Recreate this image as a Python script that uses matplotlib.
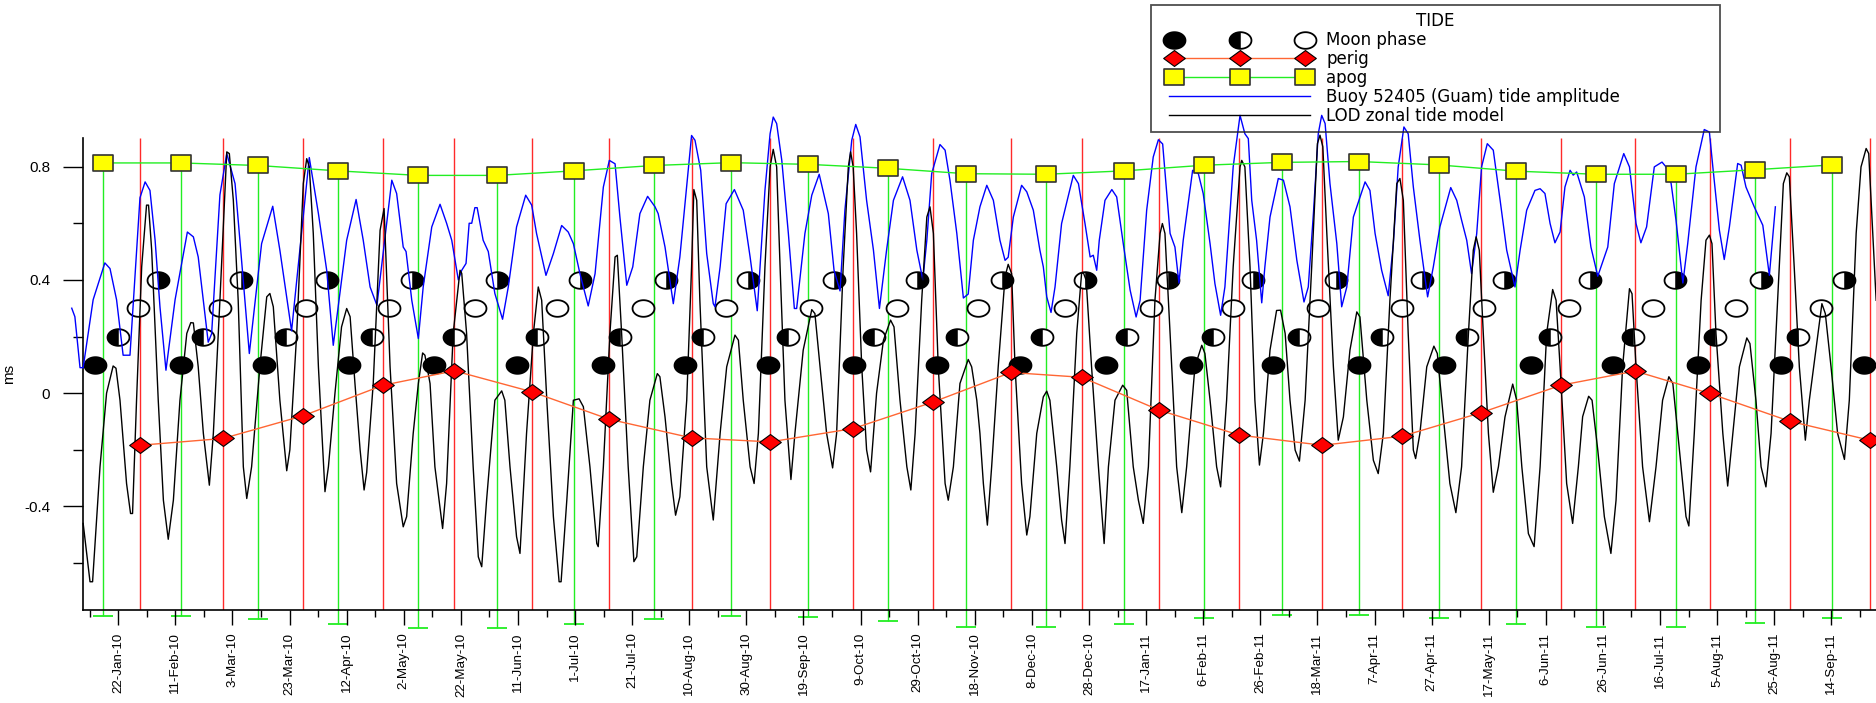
import datetime as dt

import matplotlib
matplotlib.use("Agg")
import matplotlib.pyplot as plt
import numpy as np
from matplotlib.legend_handler import HandlerLine2D, HandlerTuple
from matplotlib.lines import Line2D
from matplotlib.path import Path
from matplotlib.ticker import FixedLocator, FuncFormatter

# every x value is a day count from 1-Jan-2010
START = dt.date(2010, 1, 1)

perig_day = [28.6, 57.7, 85.7, 113.8, 138.7, 165.8, 192.9, 221.8, 249.4, 278.4, 306.5, 333.6,
             358.5, 385.6, 413.6, 442.7, 470.7, 498.3, 526.3, 552.3, 578.4, 606.4, 634.4]
perig_val = [-0.184, -0.160, -0.080, 0.028, 0.079, 0.005, -0.092, -0.158, -0.172, -0.125, -0.031, 0.073,
             0.056, -0.060, -0.148, -0.184, -0.152, -0.069, 0.028, 0.078, -0.001, -0.099, -0.166]

apog_day = [15.8, 42.9, 69.9, 98.0, 126.1, 153.5, 180.6, 208.6, 235.6, 262.7, 290.7, 317.8,
            345.8, 373.4, 401.4, 428.5, 455.5, 483.5, 510.6, 538.6, 566.6, 594.3, 621.2]
apog_val = [0.813, 0.813, 0.804, 0.785, 0.769, 0.769, 0.785, 0.804, 0.814, 0.808, 0.794, 0.775,
            0.773, 0.785, 0.805, 0.815, 0.818, 0.806, 0.784, 0.773, 0.773, 0.789, 0.806]
APOG_DROP = 1.6  # length of the green drop bars under the apogee squares

new_moon_day = [12.8, 42.9, 71.9, 101.9, 131.6, 160.8, 190.7, 219.5, 248.7, 278.7, 307.7, 336.8,
                366.8, 396.6, 425.6, 455.6, 485.4, 515.7, 544.4, 574.4, 603.4, 632.6]
first_q_day = [20.9, 50.8, 79.7, 109.8, 138.7, 167.8, 196.7, 225.7, 255.5, 285.7, 314.7, 344.4,
               374.4, 404.5, 434.6, 463.5, 493.5, 522.5, 551.4, 580.4, 609.4]
full_moon_day = [28.0, 56.6, 86.6, 115.9, 145.9, 174.8, 204.7, 233.7, 263.5, 293.6, 322.2, 352.6,
                 382.6, 411.5, 441.3, 470.5, 499.4, 529.2, 558.4, 587.6, 617.4]
last_q_day = [34.8, 63.9, 94.0, 123.8, 153.8, 182.7, 212.7, 241.7, 271.7, 300.6, 330.4, 359.6,
              388.6, 418.5, 447.5, 477.5, 506.5, 536.5, 566.4, 596.4, 625.3]
phase_level = [0.1, 0.2, 0.3, 0.4]  # new, first quarter, full, last quarter

buoy_day = [
    4.7, 5.8, 7.6, 8.7, 12.2, 16.3, 18.1, 20.4, 22.7, 25.1, 28.6, 30.4, 32.1, 33.9, 35.6, 37.7,
    40.9, 45.2, 47.3, 49.0, 52.5, 53.7, 56.6, 59.0, 61.9, 63.6, 66.9, 71.2, 75.1, 77.6, 81.7, 87.9,
    91.1, 94.0, 96.3, 101.0, 104.3, 106.8, 109.2, 111.6,
    116.8, 118.5, 120.8, 121.8, 123.8, 126.1, 127.8, 130.8, 133.7, 136.0, 137.8, 140.1, 141.3,
    142.8, 143.9, 144.8, 145.9, 146.7, 148.8, 150.6, 152.9, 155.6, 157.6, 160.5, 163.7, 165.8,
    167.5, 170.8, 173.4, 176.3, 178.6, 180.4, 182.7, 185.6, 188.0, 190.9, 193.0, 195.0, 196.7,
    199.1, 201.2, 203.7, 206.4, 209.0, 210.1, 212.5, 215.4,
    217.7, 221.8, 223.0, 225.0, 227.1, 229.4, 230.0, 231.8, 233.9, 236.8, 239.9, 242.3, 244.8,
    247.5, 249.3, 250.4, 251.6, 253.4, 255.7, 257.8, 258.6, 261.5, 263.9, 266.5, 269.7, 271.7,
    273.8, 275.5, 277.9, 279.3, 280.8, 283.1, 285.5, 287.6, 290.1, 292.5, 295.7, 298.3, 300.7,
    302.8, 304.2, 305.9, 308.8, 310.6, 312.3, 314.7, 317.0, 318.7, 320.5, 322.8,
    325.2, 327.5, 329.8, 331.6, 332.7, 334.5, 337.4, 339.2, 341.5, 343.8, 345.0, 346.2, 347.7,
    349.1, 351.4, 355.5, 357.3, 359.6, 361.4, 362.5, 363.7, 364.6, 366.6, 369.0, 370.7, 373.0,
    375.4, 377.5, 378.9, 381.2, 383.5, 385.3, 386.8, 389.4, 391.1, 392.5, 394.0, 397.3, 399.3,
    401.0, 403.4, 405.1, 407.1, 408.6, 411.5, 413.9, 415.6, 416.8, 418.0, 419.7, 421.5, 422.6,
    424.4, 427.3,
    429.1, 431.4, 433.8, 436.3, 437.8, 439.6, 441.3, 442.5, 443.7, 445.4, 447.8, 449.5, 451.3,
    453.6, 457.7, 459.4, 461.2, 463.5, 465.8, 467.6, 469.3, 471.3, 472.8, 474.6, 476.9, 479.6,
    481.6, 483.9, 487.7, 489.8, 491.5, 493.3, 495.0, 496.8, 498.5, 500.5, 502.6, 505.0, 507.3,
    510.2, 512.0, 514.3, 517.2, 519.0, 520.7, 522.5, 524.2, 526.0, 527.7, 529.5, 530.6, 531.8,
    534.5, 536.8, 539.2, 542.7, 545.0, 548.3, 550.3, 552.6, 554.3, 556.3, 559.0, 561.7, 563.1,
    564.9, 566.6, 569.0, 570.7, 573.6, 576.5, 578.3, 579.5, 581.8, 583.5, 585.3, 588.2, 589.4,
    591.1, 594.0, 597.0, 599.3, 601.4]
buoy_val = [
    0.30, 0.27, 0.09, 0.09, 0.33, 0.46, 0.44, 0.33, 0.134, 0.134, 0.69, 0.746, 0.716, 0.54, 0.305, 0.081,
    0.33, 0.569, 0.552, 0.481, 0.18, 0.21, 0.70, 0.846, 0.74, 0.54, 0.14, 0.528, 0.66, 0.505, 0.22, 0.832,
    0.634, 0.434, 0.169, 0.54, 0.684, 0.54, 0.375, 0.31,
    0.752, 0.705, 0.516, 0.50, 0.328, 0.193, 0.375, 0.587, 0.667, 0.60, 0.54, 0.40, 0.434,
    0.458, 0.60, 0.60, 0.655, 0.655, 0.54, 0.50, 0.352, 0.261, 0.375, 0.587, 0.699, 0.664,
    0.564, 0.416, 0.493, 0.592, 0.569, 0.528, 0.422, 0.308, 0.422, 0.728, 0.822, 0.81, 0.622,
    0.381, 0.446, 0.634, 0.695, 0.658, 0.634, 0.516, 0.316,
    0.481, 0.91, 0.893, 0.787, 0.493, 0.316, 0.305, 0.446, 0.669, 0.719, 0.646, 0.481, 0.291,
    0.716, 0.916, 0.975, 0.952, 0.822, 0.564, 0.299, 0.299, 0.564, 0.699, 0.773, 0.634, 0.434,
    0.361, 0.646, 0.893, 0.949, 0.905, 0.681, 0.505, 0.299, 0.505, 0.681, 0.764, 0.681, 0.505,
    0.40, 0.54, 0.775, 0.878, 0.858, 0.752, 0.564, 0.336, 0.35, 0.54, 0.658,
    0.734, 0.681, 0.54, 0.469, 0.48, 0.622, 0.734, 0.711, 0.646, 0.505, 0.446, 0.34, 0.285,
    0.375, 0.599, 0.769, 0.74, 0.599, 0.481, 0.487, 0.434, 0.54, 0.681, 0.719, 0.693, 0.528,
    0.364, 0.269, 0.328, 0.646, 0.834, 0.895, 0.88, 0.564, 0.516, 0.389, 0.54, 0.787, 0.775,
    0.705, 0.528, 0.387, 0.275, 0.375, 0.799, 0.981, 0.916, 0.899, 0.681, 0.54, 0.319, 0.446,
    0.622, 0.758,
    0.752, 0.658, 0.469, 0.322, 0.375, 0.634, 0.916, 0.981, 0.952, 0.74, 0.528, 0.305, 0.375,
    0.622, 0.746, 0.716, 0.564, 0.434, 0.344, 0.528, 0.799, 0.94, 0.916, 0.728, 0.54, 0.34,
    0.446, 0.587, 0.726, 0.681, 0.611, 0.54, 0.422, 0.564, 0.799, 0.881, 0.858, 0.681, 0.505,
    0.375, 0.505, 0.646, 0.716, 0.722, 0.705, 0.599, 0.531, 0.569, 0.728, 0.787, 0.77, 0.781,
    0.693, 0.516, 0.413, 0.516, 0.74, 0.846, 0.799, 0.599, 0.531, 0.587, 0.799, 0.816, 0.799,
    0.74, 0.611, 0.389, 0.528, 0.799, 0.931, 0.922, 0.799, 0.575, 0.472, 0.587, 0.811, 0.805,
    0.728, 0.658, 0.593, 0.416, 0.658]

lod_day = [
    8.7, 11.1, 12.0, 14.6, 16.9, 19.2, 20.2, 21.6, 23.9, 25.3, 26.0, 27.4, 29.2, 30.9, 31.6, 32.7,
    35.0, 36.8, 38.5, 40.3, 42.6, 45.0, 46.4, 47.3, 49.0, 50.8, 52.9, 54.3, 56.6, 59.0, 59.9, 61.3,
    63.0, 64.8, 66.0, 67.7, 70.6, 73.0, 74.1, 75.3, 77.6, 80.0, 81.1, 83.5, 85.8, 87.0, 87.9, 89.3,
    91.1, 93.4, 94.6, 96.9, 99.2, 101.0, 102.2, 103.9, 105.7, 107.1, 108.0, 110.3, 112.7, 114.1,
    116.2, 118.5, 120.8, 122.0, 124.3, 126.1, 127.6, 128.4, 130.2, 131.9, 134.6, 136.0, 138.3,
    140.7, 141.3, 143.0, 145.3, 147.1, 148.3, 150.0, 152.9, 155.3, 156.4, 158.2, 160.5, 161.7,
    164.0, 166.4, 168.1, 169.3, 171.1, 173.4, 175.4, 176.1, 178.1, 180.4, 182.4, 183.9, 186.2,
    188.6, 189.1, 190.9, 193.2, 195.0, 195.8, 197.3, 199.6, 201.6, 202.6, 204.9, 207.2, 209.8,
    210.7, 212.5, 214.8, 216.2,
    217.7, 220.1, 221.8, 222.6, 223.6, 224.7, 227.1, 229.4, 231.8, 234.1, 237.0, 238.2, 239.9,
    242.3, 243.7, 245.2, 247.5, 249.3, 250.4, 251.6, 252.8, 254.5, 256.6, 258.0, 260.9, 263.9,
    265.0, 266.8, 269.1, 271.2, 272.6, 274.9, 276.7, 277.5, 278.4, 279.6, 281.4, 283.1, 284.5,
    286.6, 289.0, 291.5, 292.7, 294.8, 297.2, 298.6, 300.1, 302.4, 304.2, 305.3, 306.5, 308.2,
    310.6, 311.7, 313.5, 315.8, 318.7, 319.9, 321.7, 322.8,
    324.0, 325.4, 326.9, 329.2, 331.6, 332.7, 333.9, 335.1, 337.4, 339.2, 340.3, 342.7, 345.0,
    346.2, 347.3, 349.7, 351.4, 352.6, 354.3, 356.7, 358.4, 359.0, 360.0, 361.9, 364.3, 366.3,
    367.8, 370.1, 372.8, 374.2, 376.5, 378.3, 380.0, 381.8, 384.1, 385.9, 386.7, 387.6, 389.4,
    391.7, 393.5, 395.2, 398.1, 400.5, 401.6, 403.4, 405.7, 407.1, 409.2, 411.5, 413.9, 414.5,
    415.6, 417.4, 419.1, 420.7, 422.1, 424.4, 426.7, 428.1,
    429.7, 431.4, 433.2, 434.7, 436.7, 439.0, 441.0, 441.9, 442.9, 444.3, 446.6, 448.3, 450.1,
    452.4, 454.8, 455.9, 458.3, 460.6, 462.3, 464.1, 466.4, 468.8, 469.9, 471.1, 472.8, 474.6,
    475.4, 476.9, 479.3, 481.8, 483.0, 485.1, 487.4, 489.5, 491.5, 493.9, 495.6, 496.6, 497.7,
    499.1, 500.9, 502.6, 504.4, 506.7, 509.4, 510.8, 512.6, 514.9, 516.9, 519.0, 521.3, 523.4,
    524.6, 526.0, 528.3, 530.4, 532.4,
    533.9, 536.0, 537.2, 539.2, 541.5, 543.8, 545.6, 547.9, 550.3, 551.2, 552.6, 554.9, 557.3,
    559.6, 561.9, 564.1, 565.5, 567.8, 570.1, 571.1, 573.0, 575.4, 577.1, 578.3, 579.2, 580.6,
    583.0, 584.7, 586.5, 588.8, 591.4, 592.5, 594.6, 596.4, 598.1, 599.9, 602.2, 604.2, 605.4,
    606.3, 608.0, 609.8, 611.9, 613.3, 615.6, 617.7, 618.9, 620.9, 623.2, 625.6, 627.3, 629.7,
    631.4, 633.2, 634.1, 635.5, 636.7]
lod_val = [
    -0.46, -0.666, -0.666, -0.26, 0.0, 0.096, 0.088, -0.025, -0.319, -0.425, -0.425, -0.025, 0.446, 0.664, 0.664, 0.505,
    -0.025, -0.378, -0.516, -0.378, -0.025, 0.211, 0.249, 0.248, 0.093, -0.142, -0.325, -0.142, 0.328, 0.852, 0.846, 0.681,
    0.328, -0.26, -0.372, -0.26, 0.093, 0.34, 0.352, 0.305, -0.025, -0.274, -0.20, 0.211, 0.74, 0.828, 0.80, 0.564,
    0.093, -0.348, -0.26, 0.0, 0.234, 0.299, 0.27, 0.034, -0.20, -0.342, -0.28, 0.034, 0.575, 0.652,
    0.093, -0.319, -0.472, -0.436, -0.142, 0.034, 0.142, 0.134, 0.034, -0.26, -0.478, -0.319, 0.211,
    0.434, 0.423, 0.211, -0.26, -0.578, -0.613, -0.378, -0.025, 0.008, -0.025, -0.26, -0.507, -0.566,
    -0.142, 0.211, 0.375, 0.328, -0.025, -0.436, -0.666, -0.666, -0.378, -0.025, -0.02, -0.048, -0.26,
    -0.531, -0.542, -0.26, 0.211, 0.481, 0.487, 0.211, -0.26, -0.595, -0.578, -0.26, -0.025, 0.069,
    0.058, -0.084, -0.319, -0.431,
    -0.366, -0.025, 0.446, 0.719, 0.681, 0.328, -0.26, -0.448, -0.142, 0.093, 0.205, 0.187, -0.025,
    -0.26, -0.319, -0.142, 0.446, 0.799, 0.861, 0.799, 0.446, -0.025, -0.305, -0.142, 0.152, 0.295,
    0.281, 0.093, -0.142, -0.264, -0.142, 0.446, 0.799, 0.852, 0.799, 0.564, 0.093, -0.20, -0.278,
    0.0, 0.187, 0.258, 0.234, -0.025, -0.26, -0.342, -0.142, 0.328, 0.622, 0.658, 0.564, 0.093,
    -0.319, -0.378, -0.26, 0.034, 0.119, 0.093, -0.025, -0.142,
    -0.319, -0.466, -0.26, 0.093, 0.411, 0.455, 0.422, 0.093, -0.319, -0.501, -0.436, -0.142, -0.013,
    0.007, -0.025, -0.26, -0.448, -0.531, -0.26, 0.211, 0.422, 0.426, 0.399, 0.093, -0.26, -0.531,
    -0.26, -0.025, 0.028, 0.01, -0.26, -0.378, -0.46, -0.26, 0.328, 0.564, 0.599, 0.564, 0.211,
    -0.26, -0.422, -0.26, 0.093, 0.169, 0.14, -0.025, -0.26, -0.331, -0.025, 0.446, 0.799, 0.822,
    0.799, 0.446, -0.025, -0.254, -0.142, 0.152, 0.292, 0.293,
    0.211, -0.025, -0.201, -0.24, -0.025, 0.446, 0.881, 0.911, 0.87, 0.564, 0.093, -0.166, -0.084,
    0.152, 0.287, 0.269, -0.025, -0.237, -0.284, -0.142, 0.328, 0.74, 0.758, 0.681, 0.211, -0.201,
    -0.231, -0.142, 0.093, 0.166, 0.14, -0.084, -0.319, -0.422, -0.26, 0.211, 0.505, 0.552, 0.505,
    0.211, -0.142, -0.35, -0.26, -0.084, 0.032, -0.025, -0.26, -0.496, -0.542, -0.26, 0.211, 0.366,
    0.328, 0.093, -0.319, -0.46, -0.26,
    -0.083, -0.011, -0.025, -0.201, -0.436, -0.566, -0.378, 0.093, 0.369, 0.351, 0.093, -0.26, -0.454,
    -0.26, -0.025, 0.058, 0.034, -0.201, -0.436, -0.469, -0.142, 0.328, 0.54, 0.558, 0.528, 0.211,
    -0.142, -0.328, -0.142, 0.093, 0.195, 0.175, -0.025, -0.26, -0.331, -0.142, 0.328, 0.74, 0.778,
    0.764, 0.446, 0.093, -0.166, -0.025, 0.152, 0.316, 0.281, 0.093, -0.142, -0.234, -0.025, 0.564,
    0.799, 0.864, 0.846, 0.564, 0.328]

y_major = [-0.4, 0, 0.4, 0.8]
y_minor = [-0.6, -0.2, 0.2, 0.6]
X_MIN, X_MAX = 8.75, 636.65
Y_MIN, Y_MAX = -0.764, 0.9


def closed(verts):
    verts = list(verts) + [verts[0]]
    return Path(verts, closed=True)


MOON_ASPECT = 1.32
th = np.linspace(0, 2 * np.pi, 73)[:-1]
moon_path = closed(np.column_stack([MOON_ASPECT * np.cos(th), np.sin(th)]))
th = np.linspace(np.pi / 2, 3 * np.pi / 2, 37)
moon_left = closed(np.column_stack([MOON_ASPECT * np.cos(th), np.sin(th)]))
moon_right = closed(np.column_stack([-MOON_ASPECT * np.cos(th), np.sin(th)]))
diamond = closed([(0, 1), (1.36, 0), (0, -1), (-1.36, 0)])
rect = closed([(-1.27, -1), (1.27, -1), (1.27, 1), (-1.27, 1)])

MOON_MS = 15.8
moon_kw = dict(ls="none", marker=moon_path, ms=MOON_MS, mec="black", mew=1.3)
half_kw = dict(ls="none", ms=MOON_MS, mfc="black", mec="black", mew=0.4)
perig_kw = dict(color="#ff6633", lw=1, marker=diamond, ms=15.6, mfc="#ff0000", mec="black", mew=0.8)
apog_kw = dict(color="#22ee22", lw=1, marker=rect, ms=14.9, mfc="#ffff00", mec="#333333", mew=1.2)

plt.rcParams["font.family"] = ["Liberation Sans", "DejaVu Sans"]
fig = plt.figure(figsize=(18.76, 7.03), dpi=100)
ax = fig.add_axes([83.3 / 1876, 93.5 / 703, 1 - 83.3 / 1876, 471.2 / 703])

# perigee / apogee verticals
ax.vlines(perig_day, Y_MIN, Y_MAX, colors="#ff2a2a", lw=1, zorder=1)
apog_low = np.array(apog_val) - APOG_DROP
ax.vlines(apog_day, apog_low, apog_val, colors="#22ee22", lw=1, zorder=1, clip_on=False)
ax.plot(apog_day, apog_low, ls="none", marker="_", ms=14.4, mew=1.3, color="#22ee22", clip_on=False, zorder=1)

# moon phases
ax.plot(new_moon_day, [phase_level[0]] * len(new_moon_day), mfc="black", zorder=2, **moon_kw)
ax.plot(first_q_day, [phase_level[1]] * len(first_q_day), mfc="white", zorder=2, **moon_kw)
ax.plot(first_q_day, [phase_level[1]] * len(first_q_day), marker=moon_left, zorder=2.1, **half_kw)
ax.plot(full_moon_day, [phase_level[2]] * len(full_moon_day), mfc="white", zorder=2, **moon_kw)
ax.plot(last_q_day, [phase_level[3]] * len(last_q_day), mfc="white", zorder=2, **moon_kw)
ax.plot(last_q_day, [phase_level[3]] * len(last_q_day), marker=moon_right, zorder=2.1, **half_kw)

ax.plot(buoy_day, buoy_val, color="#0000ff", lw=1, zorder=3, clip_on=False)
ax.plot(lod_day, lod_val, color="black", lw=1, zorder=3, clip_on=False)

ax.plot(perig_day, perig_val, zorder=5, **perig_kw)
ax.plot(apog_day, apog_val, zorder=5, **apog_kw)

ax.set_xlim(X_MIN, X_MAX)
ax.set_ylim(Y_MIN, Y_MAX)
for side in ("top", "right"):
    ax.spines[side].set_visible(False)
for side in ("left", "bottom"):
    ax.spines[side].set_linewidth(1.2)

ax.xaxis.set_major_locator(FixedLocator(np.arange(21, X_MAX, 20)))
ax.xaxis.set_minor_locator(FixedLocator(np.arange(11, X_MAX, 20)))


def day_label(x, pos):
    d = START + dt.timedelta(days=int(round(x)))
    return f"{d.day}-{d:%b-%y}"


ax.xaxis.set_major_formatter(FuncFormatter(day_label))
ax.yaxis.set_major_locator(FixedLocator(y_major))
ax.yaxis.set_minor_locator(FixedLocator(y_minor))
ax.yaxis.set_major_formatter(FuncFormatter(lambda v, pos: f"{v:g}"))

ax.tick_params(axis="x", which="major", length=10.6, width=1, pad=6, labelsize=9.6, labelrotation=90)
ax.tick_params(axis="x", which="minor", length=5.3, width=1)
ax.tick_params(axis="y", which="major", length=14.4, width=1, pad=9.5, labelsize=11)
ax.tick_params(axis="y", which="minor", length=7.2, width=1)
ax.set_ylabel("ms", fontsize=11)
ax.yaxis.set_label_coords(-0.0375, 0.5)

# legend
h_new = Line2D([], [], mfc="black", **moon_kw)
h_fq = Line2D([], [], mfc="white", **moon_kw)
h_fq_half = Line2D([], [], marker=moon_left, **half_kw)
h_full = Line2D([], [], mfc="white", **moon_kw)
moon_handle = (h_new, (h_fq, h_fq_half), h_full)
h_perig = Line2D([], [], **perig_kw)
h_apog = Line2D([], [], **apog_kw)
h_buoy = Line2D([], [], color="#0000ff", lw=1)
h_lod = Line2D([], [], color="black", lw=1)

LEG_FS = 12
fs_px = LEG_FS * 100 / 72
BORDER = 0.45
HANDLE_PX = 141
xpad = (1169 - 1151) / fs_px - BORDER
one = HandlerLine2D(numpoints=1)
line3 = HandlerLine2D(numpoints=3, xpad=xpad)
line1 = HandlerLine2D(numpoints=1, xpad=xpad)
leg = ax.legend(
    [moon_handle, h_perig, h_apog, h_buoy, h_lod],
    ["Moon phase", "perig", "apog", "Buoy 52405 (Guam) tide amplitude", "LOD zonal tide model"],
    handler_map={moon_handle: HandlerTuple(ndivide=None, pad=(HANDLE_PX - 30) / 2 / fs_px, xpad=xpad),
                 h_new: one, h_fq: one, h_fq_half: one, h_full: one,
                 h_perig: line3, h_apog: line3, h_buoy: line1, h_lod: line1},
    title="TIDE", title_fontsize=LEG_FS, prop={"family": "DejaVu Sans", "size": LEG_FS},
    loc="upper left", mode="expand", borderaxespad=0,
    bbox_to_anchor=(1151 / 1876, 1 - 5 / 703, 569 / 1876, 0), bbox_transform=fig.transFigure,
    handlelength=HANDLE_PX / fs_px + xpad, handletextpad=16 / fs_px, borderpad=BORDER,
    labelspacing=0.05, fancybox=False, framealpha=None, facecolor="none", edgecolor="#222222",
)
leg.get_title().set_family("DejaVu Sans")
leg.get_frame().set_linewidth(1.3)

fig.savefig("out.png", dpi=100)
